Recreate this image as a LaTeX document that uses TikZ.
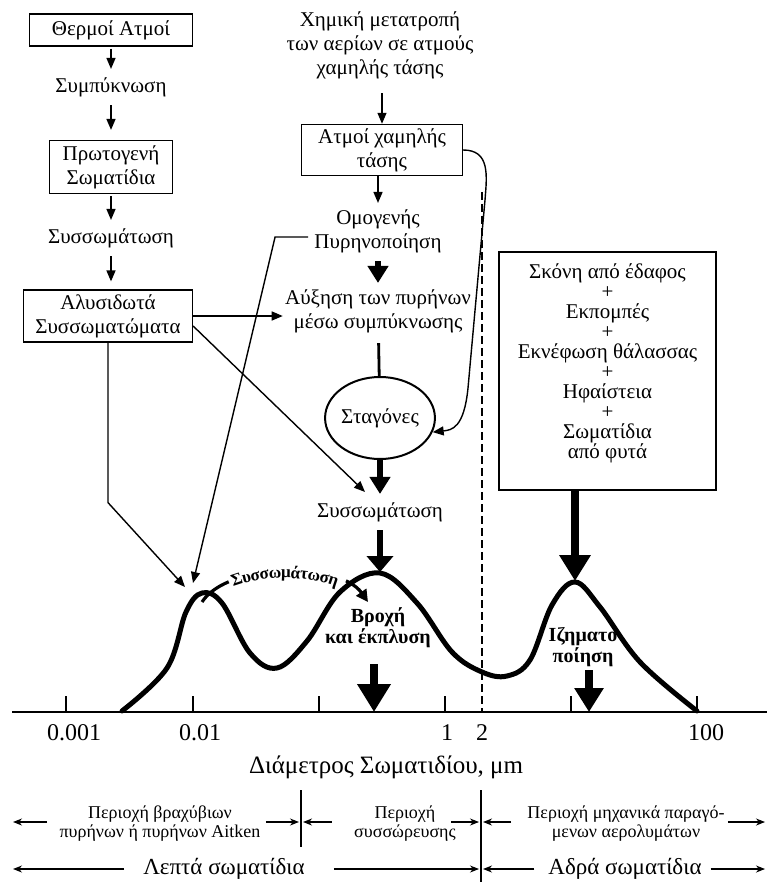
\documentclass[tikz,border=0pt]{standalone}
\usepackage{fontspec}
\setmainfont{Liberation Serif}
\usetikzlibrary{shapes.geometric,arrows.meta,positioning,decorations.text}

\begin{document}
\begin{tikzpicture}[x=0.5pt,y=-0.5pt,
        every node/.style={font=\fontsize{10.5}{12}\selectfont},
        box/.style={draw,line width=0.6pt,align=center,inner sep=2pt},
        txt/.style={align=center,inner sep=1pt},
        thin/.style={line width=0.7pt,-{Triangle[length=5.5pt,width=4.5pt]}},
        fat/.style={line width=2.6pt,-{Triangle[length=8.5pt,width=10pt]}},
        huge/.style={line width=4pt,-{Triangle[length=13pt,width=15pt]}},
        span/.style={line width=0.6pt,-{Stealth[length=4.5pt,width=3.5pt]}},
        small/.style={align=center,inner sep=1pt,font=\fontsize{9}{9.5}\selectfont},
        bold/.style={align=center,inner sep=1pt,font=\fontsize{10}{10.5}\selectfont\bfseries}]
    \useasboundingbox (0,0) rectangle (767,882);

    % Left column
    \node[box,minimum width=81.5pt,minimum height=16pt] (thermoi) at (111,30) {Θερμοί Ατμοί};
    \node[txt] (sympyk) at (111,87) {Συμπύκνωση};
    \node[box,minimum width=61.5pt,minimum height=26.5pt] (protog) at (111,167) {Πρωτογενή\\Σωματίδια};
    \node[txt] (syssomA) at (111,238) {Συσσωμάτωση};
    \node[box,minimum width=84.5pt,minimum height=26pt] (alysid) at (108,316) {Αλυσιδωτά\\Συσσωματώματα};
    \draw[thin,shorten <=1pt,shorten >=3pt] (thermoi) -- (sympyk);
    \draw[thin,shorten <=3pt,shorten >=5pt] (sympyk) -- (protog);
    \draw[thin,shorten <=1pt,shorten >=3pt] (protog) -- (syssomA);
    \draw[thin,shorten <=3pt,shorten >=4pt] (syssomA.south) -- (syssomA.south |- alysid.north);

    % Middle column
    \node[txt] (chimiki) at (380,45) {Χημική μετατροπή\\των αερίων σε ατμούς\\χαμηλής τάσης};
    \node[box,minimum width=80.5pt,minimum height=23pt] (atmoi) at (382,150) {Ατμοί χαμηλής\\τάσης};
    \node[txt] (omog) at (378,231) {Ομογενής\\Πυρηνοποίηση};
    \node[txt] (afxisi) at (378,311) {Αύξηση των πυρήνων\\μέσω συμπύκνωσης};
    \node[draw,ellipse,line width=1pt,minimum width=44pt,minimum height=41pt,inner sep=0pt] (stag) at (380,418) {Σταγόνες};
    \node[txt] (syssomB) at (380,512) {Συσσωμάτωση};
    \draw[thin,shorten <=6pt] (chimiki.south -| atmoi.north) -- (atmoi.north);
    \draw[thin,shorten >=2pt] (atmoi.south -| omog.north) -- (omog);
    \draw[fat,shorten <=3pt,shorten >=2pt] (omog) -- (afxisi);
    \draw[line width=1.4pt,shorten <=4pt] (afxisi) -- (stag);
    \draw[fat,shorten >=3pt] (stag) -- (syssomB);
    \draw[thin] (atmoi.east) .. controls (490,150) and (487,175) .. (485,200)
        -- (468,388) .. controls (464,428) and (452,430) .. (stag.-15);

    % Sources box
    \node[box,minimum width=108.5pt,minimum height=119pt,font=\fontsize{10.5}{10}\selectfont] (sources) at (607.5,371)
        {Σκόνη από έδαφος\\+\\Εκπομπές\\+\\Εκνέφωση θάλασσας\\+\\Ηφαίστεια\\+\\Σωματίδια\\από φυτά\\\mbox{}};

    % Size distribution
    \coordinate (p1) at (200,592);
    \coordinate (p2) at (380,572);
    \coordinate (p3) at (575,581);
    \draw[line width=2.5pt,line cap=round] plot[smooth,tension=0.6] coordinates {(122,711) (167,668) (186,612) (202,593) (222,603) (250,653) (277,668) (307,641) (340,592) (380,573) (417,603) (452,652) (482,672) (507,676) (530,660) (552,605) (575,582) (600,607) (640,662) (697,711)};
    \draw[fat,line width=3pt,-{Triangle[length=8pt,width=13pt]},shorten <=3pt] (syssomB) -- (p2);
    \draw[huge] (sources.south -| p3) -- (p3);

    % Cross links
    \draw[thin] (alysid.east) -- (alysid.east -| afxisi.west);
    \draw[thin] ([yshift=-5pt]alysid.east) -- ([shift={(-15,-8)}]syssomB.north);
    \draw[thin] (alysid.south) -- ++(0,160) -- ([shift={(-15,-5)}]p1);
    \draw[thin] ([xshift=-2pt,yshift=-3pt]omog.west) -- ++(-33,0) -- ([shift={(-7,-9)}]p1);

    % Coagulation arc
    \draw[line width=1.6pt,dash pattern=on 17pt off 60pt on 40pt,-{Triangle[length=6pt,width=6pt]}]
        (202,602) .. controls (228,562) and (340,562) .. (368,602);
    \path[decorate,decoration={text along path,text align=center,raise=-3pt,
        text={|\fontsize{8.5}{9}\selectfont\bfseries|Συσσωμάτωση}}]
        (202,602) .. controls (228,562) and (340,562) .. (368,602);

    % Removal
    \node[bold] (vroxi) at (378,628) {Βροχή\\και έκπλυση};
    \node[bold] (izima) at (583,647) {Ιζηματο\\ποίηση};
    \coordinate (rainA) at (374,664);
    \coordinate (rainB) at (374,712);
    \coordinate (sedA) at (589,670);
    \coordinate (sedB) at (589,712);
    \draw[huge,line width=4pt,-{Triangle[length=14pt,width=16pt]}] (rainA) -- (rainB);
    \draw[huge,line width=3.6pt,-{Triangle[length=12pt,width=14pt]}] (sedA) -- (sedB);

    % Axis
    \draw[dashed,line width=0.6pt,dash pattern=on 4pt off 2pt] (482,192) -- (482,712);
    \draw[line width=0.6pt] (12,712) -- (767,712);
    \foreach \x in {66,193,319,445,571,697}
        \draw[line width=0.6pt] (\x,712) -- (\x,696);
    \foreach \x/\l in {74/0.001,200/0.01,447/1,482/2,706/100}
        \node[font=\fontsize{12}{14}\selectfont] at (\x,733) {\l};
    \node[font=\fontsize{12.5}{14}\selectfont] (axtitle) at (386,767) {Διάμετρος Σωματιδίου, μm};

    % Ranges
    \draw[line width=0.6pt] (301,790) -- (301,847);
    \draw[line width=0.6pt] (481,790) -- (481,882);
    \coordinate (s0) at (13,822);
    \coordinate (s1) at (301,822);
    \coordinate (s2) at (481,822);
    \coordinate (s3) at (765,822);
    \coordinate (f0) at (13,869);
    \coordinate (f2) at (481,869);
    \coordinate (f3) at (765,869);
    \node[small] (aitken) at (160,824) {Περιοχή βραχύβιων\\πυρήνων ή πυρήνων Aitken};
    \node[small] (accum) at (405,824) {Περιοχή\\συσσώρευσης};
    \node[small] (mech) at (626,824) {Περιοχή μηχανικά παραγό-\\μενων αερολυμάτων};
    \draw[span] ([shift={(-5pt,1pt)}]aitken.west) -- (s0);
    \draw[span,shorten >=1pt] ([shift={(1.5pt,1pt)}]aitken.east) -- (s1);
    \draw[span,shorten >=1pt] ([shift={(-10pt,1pt)}]accum.west) -- (s1);
    \draw[span,shorten >=1pt] ([shift={(-3.5pt,1pt)}]accum.east) -- (s2);
    \draw[span,shorten >=1pt] ([shift={(-7pt,1pt)}]mech.west) -- (s2);
    \draw[span] ([shift={(0.5pt,1pt)}]mech.east) -- (s3);
    \node[font=\fontsize{11.5}{13}\selectfont] (fine) at (224,869) {Λεπτά σωματίδια};
    \node[font=\fontsize{11.5}{13}\selectfont] (coarse) at (625,869) {Αδρά σωματίδια};
    \draw[span] ([xshift=-6pt]fine.west) -- (f0);
    \draw[span,shorten >=1pt] ([xshift=11pt]fine.east) -- (f2);
    \draw[span,shorten >=1pt] ([xshift=-3.5pt]coarse.west) -- (f2);
    \draw[span] ([xshift=1pt]coarse.east) -- (f3);
\end{tikzpicture}
\end{document}
